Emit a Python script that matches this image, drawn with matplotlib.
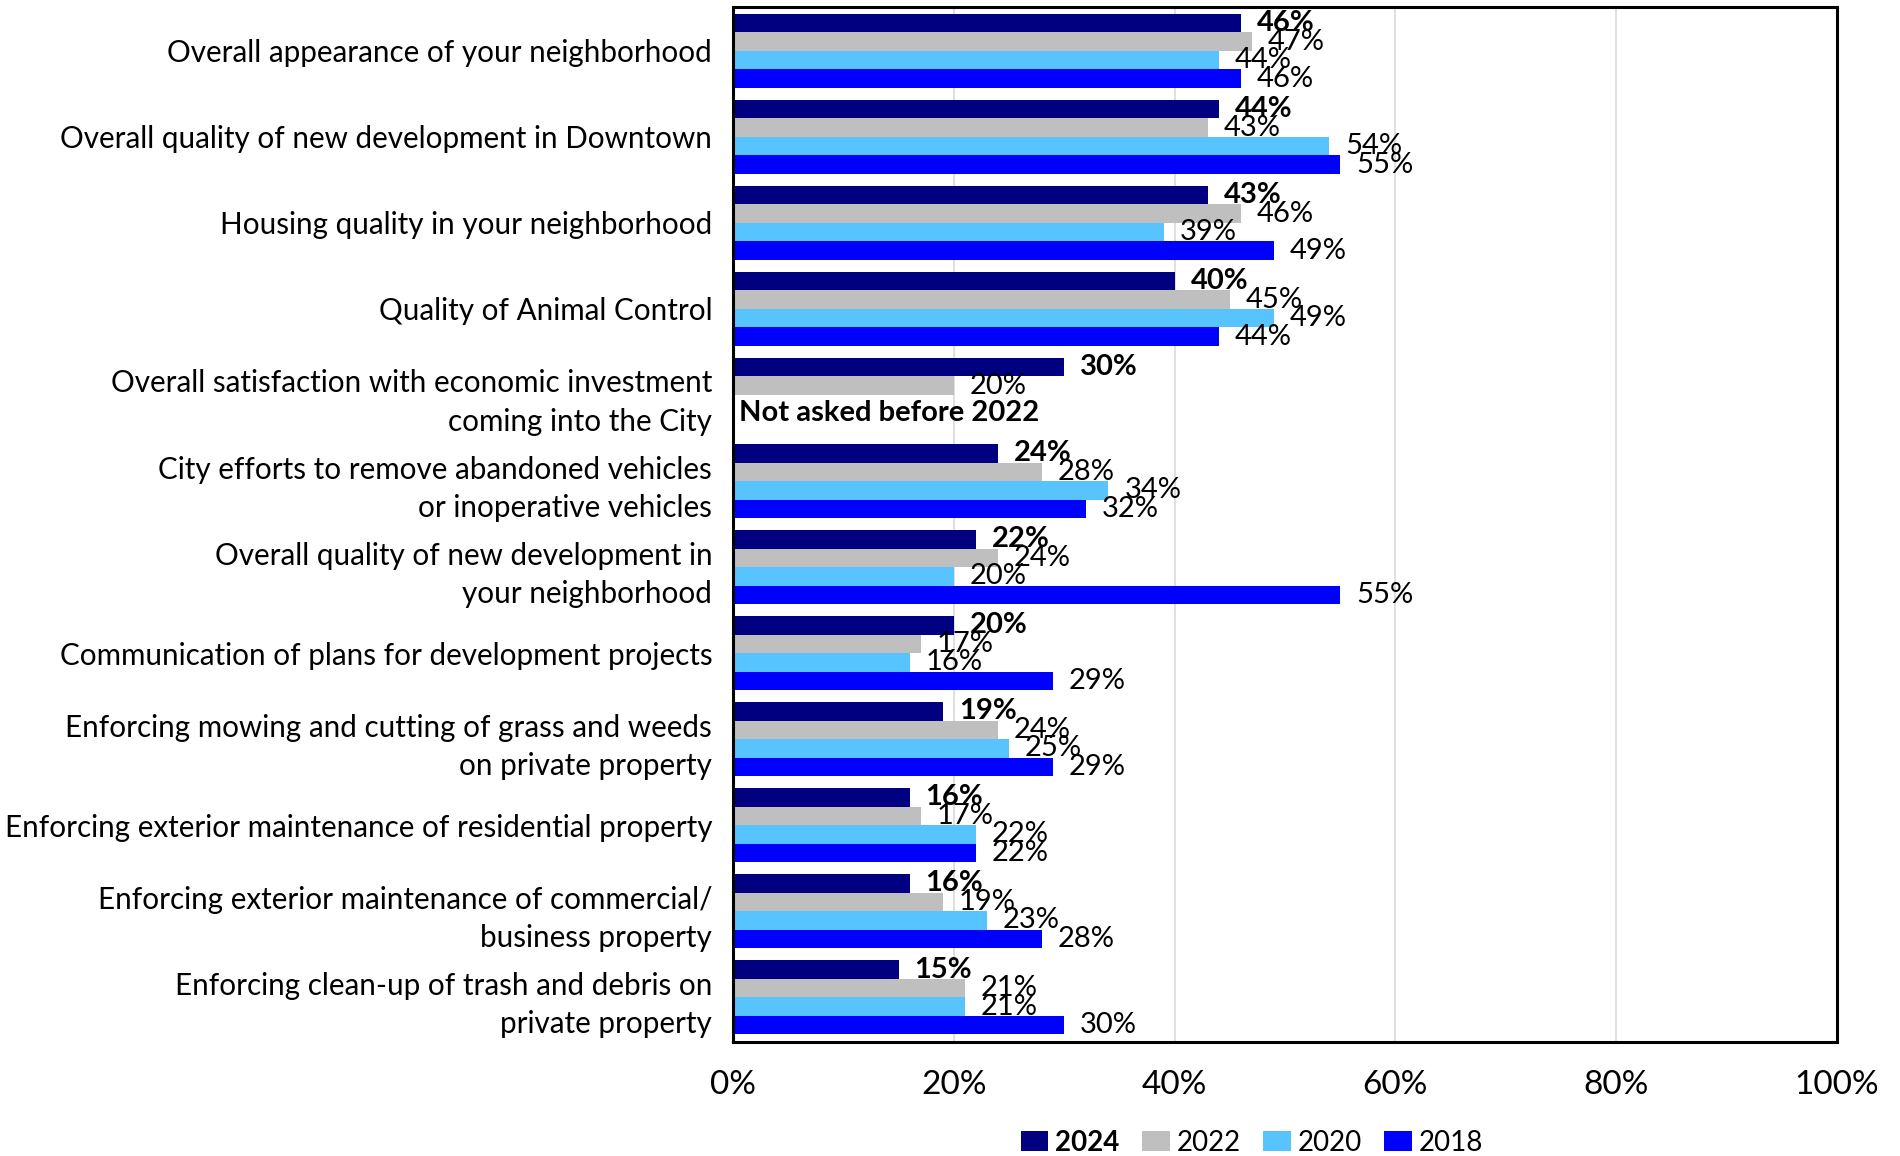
import matplotlib
matplotlib.use("Agg")
import matplotlib.pyplot as plt
import numpy as np

plt.rcParams['font.family'] = ['Lato', 'DejaVu Sans']

categories = [
    "Overall appearance of your neighborhood",
    "Overall quality of new development in Downtown",
    "Housing quality in your neighborhood",
    "Quality of Animal Control",
    "Overall satisfaction with economic investment\ncoming into the City",
    "City efforts to remove abandoned vehicles\nor inoperative vehicles",
    "Overall quality of new development in\nyour neighborhood",
    "Communication of plans for development projects",
    "Enforcing mowing and cutting of grass and weeds\non private property",
    "Enforcing exterior maintenance of residential property",
    "Enforcing exterior maintenance of commercial/\nbusiness property",
    "Enforcing clean-up of trash and debris on\nprivate property",
]
years = ["2024", "2022", "2020", "2018"]
v2024 = [46, 44, 43, 40, 30, 24, 22, 20, 19, 16, 16, 15]
v2022 = [47, 43, 46, 45, 20, 28, 24, 17, 24, 17, 19, 21]
v2020 = [44, 54, 39, 49, None, 34, 20, 16, 25, 22, 23, 21]
v2018 = [46, 55, 49, 44, None, 32, 55, 29, 29, 22, 28, 30]
series = [v2024, v2022, v2020, v2018]
colors = ["#000080", "#BFBFBF", "#57C4FF", "#0000FF"]
note_text = "Not asked before 2022"

fig = plt.figure(figsize=(19, 11.56), dpi=100)
ax = fig.add_axes([0.3858, 0.0986, 0.5810, 0.8954])

h = 0.215
y = np.arange(len(categories))
for k, (vals, col, yr) in enumerate(zip(series, colors, years)):
    pos = y + (k - 1.5) * h
    for yy, v in zip(pos, vals):
        if v is None:
            continue
        ax.barh(yy, v, height=h, color=col, label=yr if yy == pos[0] else None)
        ax.annotate(f"{v}%", xy=(v, yy), xytext=(11.5, 0), textcoords="offset points",
                    va="center", ha="left", fontsize=21,
                    fontweight="bold" if k == 0 else "normal")

# note for the survey item that is new
ax.text(0.5, 4 + 0.21, note_text, fontsize=21, fontweight="bold", va="center", ha="left")

ax.set_xlim(0, 100)
ax.set_ylim(11.52, -0.51)
ax.set_xticks(np.arange(0, 101, 20))
ax.set_xticklabels([f"{t}%" for t in range(0, 101, 20)], fontsize=24)
ax.set_yticks(y)
ax.set_yticklabels(categories, fontsize=21.3, ha="right", linespacing=1.45)
ax.tick_params(axis="both", length=0)
ax.tick_params(axis="y", pad=15)
ax.tick_params(axis="x", pad=20)
ax.xaxis.grid(True, color="#D9D9D9", linewidth=1.2)
ax.set_axisbelow(True)
for s in ax.spines.values():
    s.set_color("black")
    s.set_linewidth(2.2)

leg = fig.legend(loc="center", bbox_to_anchor=(1252 / 1900, 1 - 1143 / 1156), ncol=4,
                 frameon=False, fontsize=20, handlelength=1.0, handleheight=0.75,
                 handletextpad=0.25, columnspacing=0.8, borderaxespad=0)
leg.get_texts()[0].set_fontweight("bold")

fig.savefig("out.png", dpi=100)
